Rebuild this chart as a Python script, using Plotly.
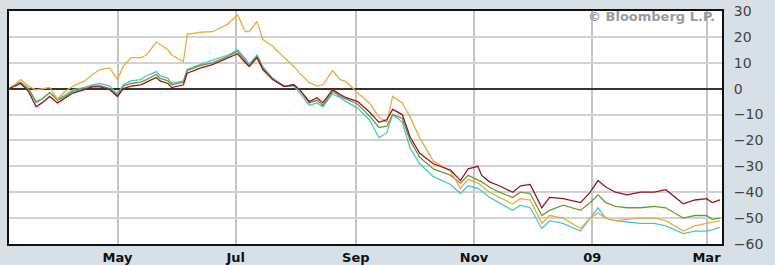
import plotly.graph_objects as go

dates = [
    "2008-03-06", "2008-03-09", "2008-03-12", "2008-03-16", "2008-03-20", "2008-03-23",
    "2008-03-27", "2008-03-31", "2008-04-04", "2008-04-08", "2008-04-14", "2008-04-18",
    "2008-04-22", "2008-04-27", "2008-05-01", "2008-05-04", "2008-05-08", "2008-05-13",
    "2008-05-16", "2008-05-21", "2008-05-23", "2008-05-27", "2008-05-29", "2008-06-04",
    "2008-06-06", "2008-06-13", "2008-06-19", "2008-06-27", "2008-07-02", "2008-07-06",
    "2008-07-08", "2008-07-12", "2008-07-15", "2008-07-20", "2008-07-26", "2008-07-31",
    "2008-08-03", "2008-08-08", "2008-08-12", "2008-08-15", "2008-08-20", "2008-08-24",
    "2008-08-27", "2008-09-02", "2008-09-08", "2008-09-13", "2008-09-17", "2008-09-20",
    "2008-09-25", "2008-09-29", "2008-10-04", "2008-10-11", "2008-10-20", "2008-10-25",
    "2008-10-29", "2008-11-03", "2008-11-05", "2008-11-09", "2008-11-14", "2008-11-21",
    "2008-11-25", "2008-11-30", "2008-12-06", "2008-12-10", "2008-12-17", "2008-12-26",
    "2008-12-31", "2009-01-04", "2009-01-08", "2009-01-13", "2009-01-19", "2009-01-26",
    "2009-02-02", "2009-02-08", "2009-02-17", "2009-02-23", "2009-03-01", "2009-03-04",
    "2009-03-08",
]

red = [
    0, 1, 2, -1, -7, -5.5, -3, -5.5, -3.5, -1.7, -0.4, 0.7,
    0.7, -0.4, -3, 0, 1, 1.5, 2.5, 4.3, 3, 2, 0.4, 1.5,
    6, 8, 9.3, 12, 13.5, 10, 8.5, 12, 7.4, 3.5, 0.8, 1.5,
    -0.4, -5, -3.5, -5.5, -0.4, -2.3, -3.5, -5, -9, -13, -12, -8,
    -10, -18.7, -25, -29, -31.5, -35.5, -31, -30, -33.5, -36, -37.5, -40,
    -37.5, -37, -46, -42, -42.5, -44, -40, -35.5, -38, -40, -41, -40,
    -40, -39, -44.5, -43, -42.5, -44, -43,
]

green = [
    0, 1.5, 2.5, 0, -5, -4, -1.5, -4.5, -3, -1, 0, 1,
    1.2, 0, -2.5, 1, 2, 2.5, 3.5, 5.5, 4, 3, 1.5, 2.5,
    7, 9, 10, 12.5, 14.5, 11, 9, 12.5, 8, 4, 1, 1.5,
    -0.5, -5.5, -4.5, -6.5, -1, -3, -4, -6, -10.5, -15, -14.5, -10,
    -11.5, -20, -26.5, -31, -33.5, -36.5, -33.5, -35.5, -36, -38, -40, -42,
    -40, -40.5, -49, -47, -45, -47, -44, -41, -44, -45.5, -46, -46,
    -45.5, -46, -50, -49, -49, -50.5, -50,
]

cyan = [
    0, 1.5, 2, 0, -5.5, -4, -1.5, -4, -2.5, -0.5, 0.5, 1.5,
    2, 1, -2, 1.5, 3, 3.5, 5, 6.6, 5, 4, 2, 3,
    7.5, 9.5, 11, 13, 15, 11.5, 9.5, 13, 8.5, 4, 1, 1,
    -1.5, -6.5, -5.5, -7, -2, -3.5, -5, -7.5, -12, -19, -17, -10,
    -13, -23, -29, -34, -37, -40.5, -37.5, -38.5, -39.5, -42, -44, -47,
    -45, -46, -54, -51, -52, -55, -50, -46, -50, -51, -51.5, -52,
    -52, -53, -56, -55, -55, -54.5, -53.5,
]

orange = [
    0, 1.5, 3.5, 1, -0.5, 0, 0.5, -4, -1, 1, 3, 5.5,
    7.4, 8, 3.5, 8.6, 12, 12, 13, 18, 17, 15, 13, 10.5,
    21, 21.8, 22, 25, 28.5, 22, 22, 26, 19, 16.5, 12, 8.6,
    6, 2.3, 1, 1.5, 7, 3.5, 2.7, -1.7, -5.5, -11, -13, -3,
    -5.5, -11, -19, -28, -32, -38.5, -35, -36.5, -37.5, -40, -42, -44.5,
    -42.5, -43, -52, -49, -50, -54, -50, -48, -50, -51, -50.5, -50,
    -50, -51, -55, -53, -52, -51.5, -51,
]

tick_dates = ["2008-05-01", "2008-07-01", "2008-09-01", "2008-11-01", "2009-01-01", "2009-03-01"]
tick_text = ["May", "Jul", "Sep", "Nov", "09", "Mar"]
y_ticks = [30, 20, 10, 0, -10, -20, -30, -40, -50, -60]

series = [
    ("cyan", cyan, "#4cc3dc"),
    ("green", green, "#6c9c38"),
    ("orange", orange, "#f0a93a"),
    ("red", red, "#9a1222"),
]

fig = go.Figure()
for name, vals, col in series:
    fig.add_trace(go.Scatter(x=dates, y=vals, mode="lines", name=name,
                             line=dict(color=col, width=1.3), hoverinfo="skip"))

fig.update_layout(
    width=775, height=265,
    margin=dict(l=9, r=53, t=11, b=21),
    paper_bgcolor="#d6e0e6",
    plot_bgcolor="#ffffff",
    showlegend=False,
    font=dict(family="DejaVu Sans", size=13, color="#333333"),
)

fig.update_xaxes(
    type="date",
    range=["2008-03-06", "2009-03-09"],
    tickvals=tick_dates, ticktext=tick_text,
    tickfont=dict(family="DejaVu Sans", size=13, color="#111111", weight="bold"),
    showgrid=True, gridcolor="#c4c4c4", gridwidth=1.5,
    showline=True, linecolor="#111111", linewidth=2, mirror=True,
    ticks="", zeroline=False, automargin=False,
)

fig.update_yaxes(
    side="right",
    range=[-60, 30],
    tickvals=y_ticks,
    tickfont=dict(family="DejaVu Sans", size=14, color="#444444"),
    showgrid=True, gridcolor="#d2d2d2", gridwidth=1.5,
    showline=True, linecolor="#111111", linewidth=2, mirror=True,
    zeroline=True, zerolinecolor="#333333", zerolinewidth=1.5,
    ticks="", ticklabelstandoff=7, automargin=False,
)

fig.add_annotation(
    text="© Bloomberg L.P.", xref="paper", yref="paper",
    x=0.993, y=0.975, xanchor="right", yanchor="middle", showarrow=False,
    font=dict(family="DejaVu Sans", size=13, color="#9a9a9a", weight="bold"),
)

fig.write_html(
    "out.html",
    config={"displayModeBar": False},
    post_script="document.body.style.margin='0';document.body.style.padding='0';",
)
